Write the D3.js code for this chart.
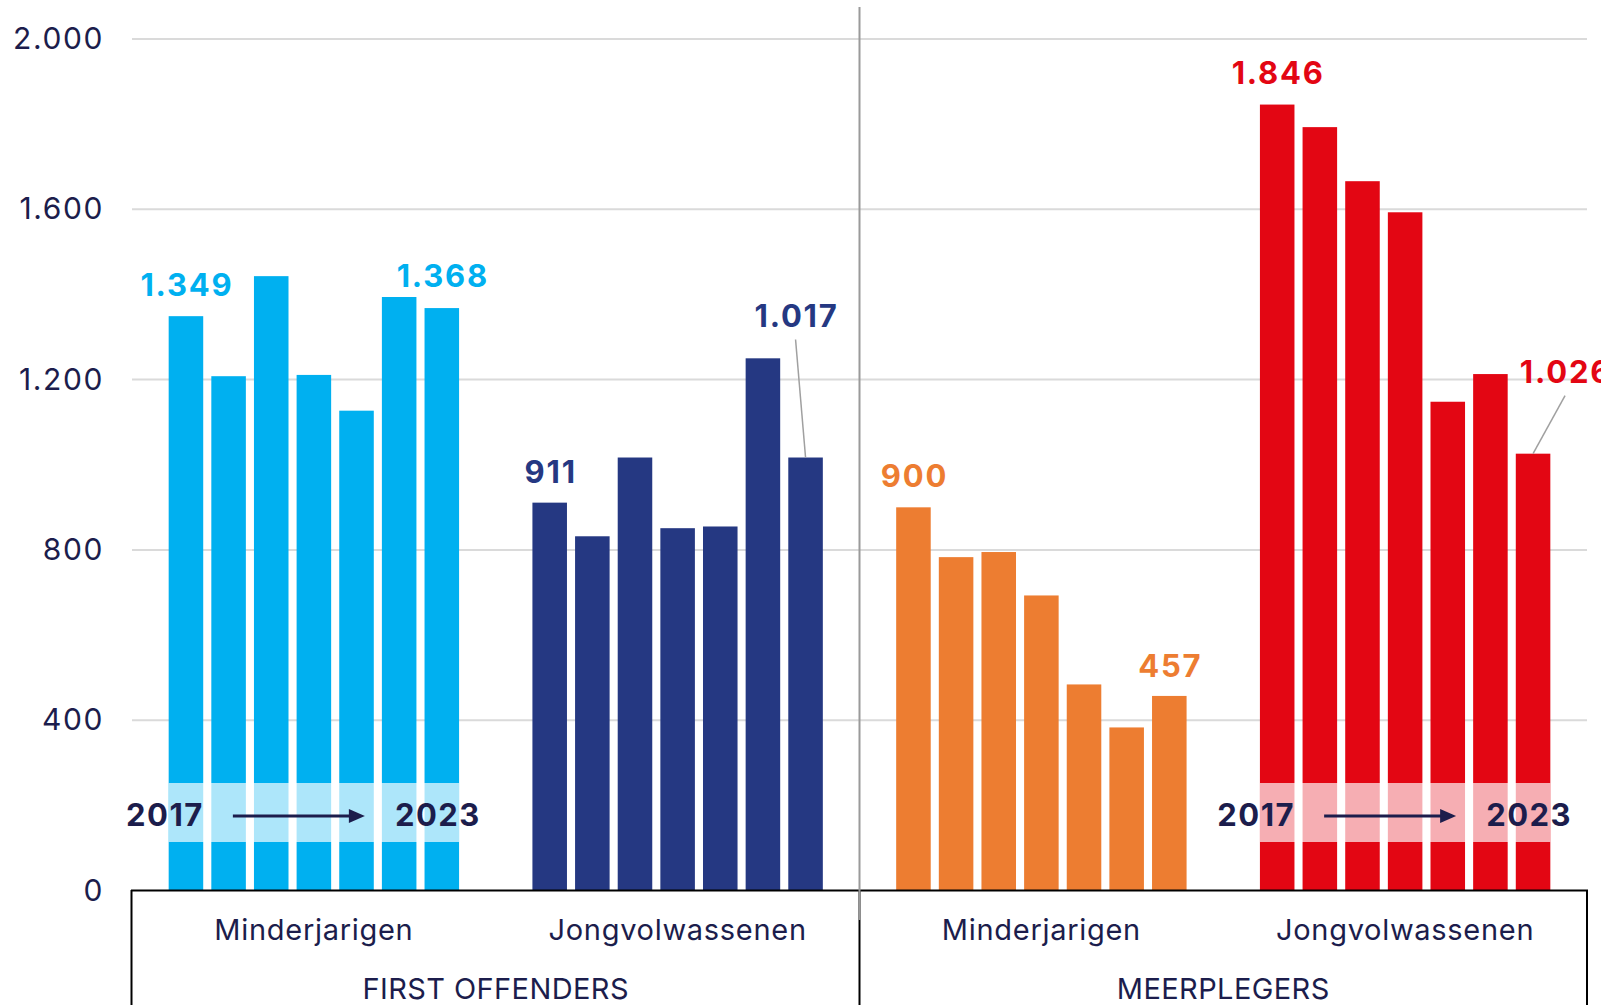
<!DOCTYPE html>
<html>
<head>
<meta charset="utf-8">
<script src="https://cdn.jsdelivr.net/npm/d3@7"></script>
<style>
  body { margin: 0; background: #fff; }
  svg { display: block; font-family: Inter, "Open Sans", sans-serif; }
</style>
</head>
<body>
<svg id="chart" width="1601" height="1005"></svg>
<script>
// data
const years = [2017, 2018, 2019, 2020, 2021, 2022, 2023];
const groupKeys = ["foMin", "foJong", "mpMin", "mpJong"];
const groupLabels = ["Minderjarigen", "Jongvolwassenen", "Minderjarigen", "Jongvolwassenen"];
const superLabels = ["FIRST OFFENDERS", "MEERPLEGERS"];
const firstMinderjarigen = [1349, 1208, 1443, 1211, 1127, 1394, 1368];
const firstJongvolwassenen = [911, 832, 1017, 851, 855, 1250, 1017];
const meerMinderjarigen = [900, 783, 795, 693, 484, 383, 457];
const meerJongvolwassenen = [1846, 1793, 1666, 1593, 1148, 1213, 1026];
const yTicks = [0, 400, 800, 1200, 1600, 2000];

const seriesValues = [firstMinderjarigen, firstJongvolwassenen, meerMinderjarigen, meerJongvolwassenen];
const colors = ["#00b0f0", "#253882", "#ed7d31", "#e30613"];
const ink = "#1c1d4c";

const nl = d3.formatLocale({decimal: ",", thousands: ".", grouping: [3], currency: ["€", ""]});
const fmt = nl.format(",d");

const svg = d3.select("#chart");

const x = d3.scaleBand().domain(groupKeys).range([132, 1587]).padding(0);
const xi = d3.scaleBand().domain(years).range([0, x.bandwidth()])
    .paddingInner(0.19).paddingOuter(0.86);
const y = d3.scaleLinear().domain([0, 2000]).range([890.5, 39]);

// grid
svg.append("g").selectAll("line")
    .data(yTicks.filter(d => d > 0))
    .enter().append("line")
    .attr("x1", 132).attr("x2", 1587)
    .attr("y1", d => y(d)).attr("y2", d => y(d))
    .attr("stroke", "#dadada").attr("stroke-width", 2);

// y axis labels
const yAxis = d3.axisLeft(y).tickValues(yTicks).tickFormat(fmt).tickSize(0).tickPadding(0);
const ya = svg.append("g").attr("transform", "translate(104,0)").call(yAxis);
ya.select(".domain").remove();
ya.selectAll("text")
    .attr("fill", ink)
    .style("font-size", "30px")
    .style("letter-spacing", "1.6px")
    .style("font-family", "Inter, sans-serif");

// bars
groupKeys.forEach(function(key, gi) {
  const g = svg.append("g").attr("transform", "translate(" + x(key) + ",0)");
  const vals = seriesValues[gi];
  g.selectAll("rect")
      .data(vals)
      .enter().append("rect")
      .attr("x", (d, i) => xi(years[i]))
      .attr("width", xi.bandwidth())
      .attr("y", d => y(d))
      .attr("height", d => y(0) - y(d))
      .attr("fill", colors[gi]);
});

// year band overlays on first and last group
[0, 3].forEach(function(gi) {
  const key = groupKeys[gi];
  const x0 = x(key) + xi(years[0]);
  const x1 = x(key) + xi(years[6]) + xi.bandwidth();
  const cx = x(key) + x.bandwidth() / 2;
  svg.append("rect")
      .attr("x", x0).attr("width", x1 - x0)
      .attr("y", 783).attr("height", 59)
      .attr("fill", "#fff").attr("opacity", 0.68);

  svg.append("text")
      .attr("x", cx - 110).attr("y", 826)
      .attr("text-anchor", "end")
      .attr("fill", ink)
      .style("font-size", "31px").style("font-weight", 700)
      .style("letter-spacing", "1.5px")
      .text(years[0]);
  svg.append("text")
      .attr("x", cx + 81).attr("y", 826)
      .attr("fill", ink)
      .style("font-size", "31px").style("font-weight", 700)
      .style("letter-spacing", "1.5px")
      .text(years[6]);
  svg.append("line")
      .attr("x1", cx - 81).attr("x2", cx + 38)
      .attr("y1", 816).attr("y2", 816)
      .attr("stroke", ink).attr("stroke-width", 3);
  svg.append("path")
      .attr("d", "M" + (cx + 35) + ",809L" + (cx + 51) + ",816L" + (cx + 35) + ",823Z")
      .attr("fill", ink);
});

// value labels: [group, year index, dx, dy from bar top, leader]
const callouts = [
  [0, 0, 0, -20, false],
  [0, 6, 0, -21, false],
  [1, 0, 0, -20, false],
  [1, 6, -10, -131, true],
  [2, 0, 0, -20, false],
  [2, 6, 0, -19, false],
  [3, 0, 0, -21, false],
  [3, 6, 32, -71, true]
];
callouts.forEach(function(c) {
  const gi = c[0], i = c[1];
  const v = seriesValues[gi][i];
  const bx = x(groupKeys[gi]) + xi(years[i]) + xi.bandwidth() / 2;
  const by = y(v);
  svg.append("text")
      .attr("x", bx + c[2] + 1).attr("y", by + c[3])
      .attr("text-anchor", "middle")
      .attr("fill", colors[gi])
      .style("font-size", "31px").style("font-weight", 700)
      .style("letter-spacing", "1.8px")
      .text(fmt(v));
  if (c[4]) {
    svg.append("line")
        .attr("x1", bx + c[2]).attr("y1", by + c[3] + 13)
        .attr("x2", bx).attr("y2", by)
        .attr("stroke", "#a0a0a0").attr("stroke-width", 1.5);
  }
});

// category box
const box = svg.append("g").attr("fill", "none").attr("stroke", "#000").attr("stroke-width", 2);
box.append("line").attr("x1", 131).attr("x2", 1588).attr("y1", 890.5).attr("y2", 890.5);
box.append("line").attr("x1", 131.5).attr("x2", 131.5).attr("y1", 890).attr("y2", 1005);
box.append("line").attr("x1", 1587).attr("x2", 1587).attr("y1", 890).attr("y2", 1005);
box.append("line").attr("x1", 859.5).attr("x2", 859.5).attr("y1", 890).attr("y2", 1005);

// divider between the two halves
svg.append("line")
    .attr("x1", 859.5).attr("x2", 859.5).attr("y1", 7).attr("y2", 920)
    .attr("stroke", "#9a9a9a").attr("stroke-width", 2);

svg.append("g").selectAll("text")
    .data(groupKeys)
    .enter().append("text")
    .attr("x", d => x(d) + x.bandwidth() / 2)
    .attr("y", 940)
    .attr("text-anchor", "middle")
    .attr("fill", ink)
    .style("font-size", "29px")
    .style("letter-spacing", "0.7px")
    .text((d, i) => groupLabels[i]);

svg.append("g").selectAll("text")
    .data(superLabels)
    .enter().append("text")
    .attr("x", (d, i) => (x(groupKeys[i * 2]) + x(groupKeys[i * 2 + 1]) + x.bandwidth()) / 2)
    .attr("y", 999)
    .attr("text-anchor", "middle")
    .attr("fill", ink)
    .style("font-size", "29px")
    .style("letter-spacing", "0.4px")
    .text(d => d);
</script>
</body>
</html>
